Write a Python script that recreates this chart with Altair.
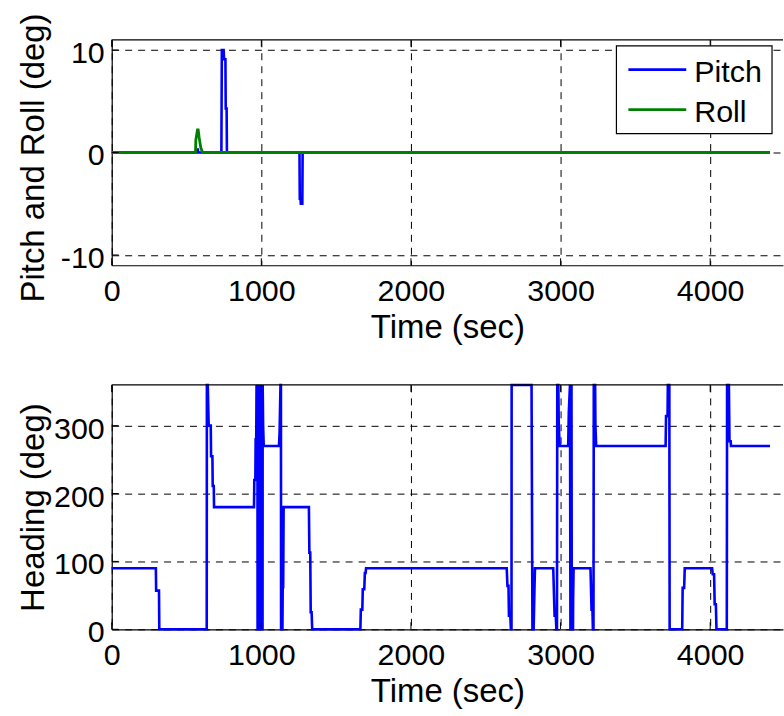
import altair as alt
import pandas as pd

# ---------------- data ----------------
pitch_time = [0, 566, 568, 576, 578, 733, 736, 748, 751, 760, 762, 768, 770,
              1255, 1257, 1262, 1264, 1274, 1276, 4400]
pitch_deg = [0, 0, 0.3, 0.3, 0, 0, 10, 10, 9.1, 9.1, 4.3, 4.3, 0,
             0, -4.5, -4.5, -5.0, -5.0, 0, 0]

roll_time = [0, 560, 562, 573, 578, 584, 595, 607, 4400]
roll_deg = [0, 0, 1.2, 2.2, 2.2, 1.5, 0.5, 0, 0]

heading_time = [
    0, 295, 297, 316, 318, 635, 636, 642, 648, 662, 664, 673, 675, 682, 684,
    951, 953, 960, 962, 966, 968, 970, 974, 975, 980, 981, 986, 988, 989, 994,
    995, 1000, 1003, 1005, 1008, 1009, 1012, 1016, 1118, 1122, 1128, 1131, 1132,
    1137, 1139, 1141, 1144, 1146, 1149, 1318, 1321, 1327, 1330, 1336, 1340,
    1662, 1665, 1675, 1678, 1688, 1692, 1697, 1700,
    2640, 2645, 2652, 2655, 2664, 2668, 2672, 2673, 2806, 2812, 2817, 2820,
    2826, 2829, 2951, 2960, 2968, 2972, 2976, 2978, 2985, 2988, 2994, 3051,
    3055, 3063, 3066, 3071, 3073, 3075, 3083, 3084, 3087, 3200, 3207, 3213,
    3216, 3220, 3222, 3231, 3233, 3238, 3702, 3705, 3715, 3717, 3727, 3729,
    3813, 3816, 3826, 3830, 4013, 4017, 4026, 4030, 4038, 4042, 4111, 4113,
    4125, 4129, 4137, 4139, 4400,
]
heading_deg = [
    90, 90, 57, 57, 0, 0, 360, 360, 300, 300, 255, 255, 211, 211, 180,
    180, 220, 220, 280, 280, 360, 340, 360, 0, 0, 360, 330, 360, 0, 0,
    360, 320, 360, 0, 0, 360, 300, 270, 270, 290, 360, 360, 0,
    0, 30, 0, 100, 60, 180, 180, 113, 113, 25, 25, 0,
    0, 29, 29, 59, 59, 83, 83, 90,
    90, 64, 64, 20, 20, 0, 0, 360, 360, 0, 0, 0,
    64, 90, 90, 20, 20, 0, 0, 360, 360, 300, 270, 270,
    319, 360, 0, 0, 360, 0, 0, 44, 90, 90, 29, 29,
    0, 0, 360, 360, 300, 270, 270, 314, 314, 360, 360, 0,
    0, 61, 61, 90, 90, 81, 81, 37, 37, 0, 0, 360,
    360, 277, 277, 270, 270,
]

time_ticks = [0, 1000, 2000, 3000, 4000]
attitude_ticks = [-10, 0, 10]
heading_ticks = [0, 100, 200, 300]

legend_labels = ["Pitch", "Roll"]
legend_colors = ["#0000ff", "#008000"]

# ---------------- styling ----------------
FONT = "Liberation Sans"
W = 673
H_TOP = 226
H_BOT = 245
TICK_LEN = 7

x_scale = alt.Scale(domain=[0, 4486.7], nice=False, zero=False)


def series(t, v):
    return pd.DataFrame({"t": t, "v": v, "i": range(len(t))})


def x_axis():
    return alt.Axis(
        values=time_ticks, title="Time (sec)", grid=True, gridColor="black",
        gridDash=[7, 6], gridOpacity=1, gridWidth=1, domain=True,
        domainColor="black", domainWidth=1.2, ticks=False, tickSize=0,
        labelFont=FONT, labelFontSize=30.5, labelColor="black",
        labelPadding=11, labelFlush=False, labelOverlap=False,
        labelExpr="'' + datum.value", titleFont=FONT, titleFontSize=33,
        titleFontWeight="normal", titleColor="black",
        titleBaseline="alphabetic", titleY=72,
    )


def y_axis(values, title, title_y):
    return alt.Axis(
        values=values, title=title, grid=True, gridColor="black",
        gridDash=[7, 6], gridOpacity=1, gridWidth=1, domain=True,
        domainColor="black", domainWidth=1.2, ticks=False, tickSize=0,
        labelFont=FONT, labelFontSize=30.5, labelColor="black",
        labelPadding=7.5, labelOffset=3.5, labelOverlap=False,
        labelExpr="'' + datum.value", titleFont=FONT, titleFontSize=33,
        titleFontWeight="normal", titleColor="black",
        titleBaseline="alphabetic", titleX=-68, titleY=title_y,
        titleAngle=270,
    )


def frame_layers(y_ticks, height):
    """Inward tick marks and the top edge of the box."""
    one = pd.DataFrame({"k": [0]})
    ydf = pd.DataFrame({"v": y_ticks})
    xdf = pd.DataFrame({"t": time_ticks})
    return [
        alt.Chart(ydf).mark_rule(color="black", strokeWidth=1).encode(
            y="v:Q", x=alt.value(0), x2=alt.value(TICK_LEN)),
        alt.Chart(xdf).mark_rule(color="black", strokeWidth=1).encode(
            x=alt.X("t:Q", scale=x_scale), y=alt.value(height),
            y2=alt.value(height - TICK_LEN)),
        alt.Chart(xdf).mark_rule(color="black", strokeWidth=1).encode(
            x=alt.X("t:Q", scale=x_scale), y=alt.value(0),
            y2=alt.value(TICK_LEN)),
        alt.Chart(one).mark_rule(color="black", strokeWidth=1.2).encode(
            x=alt.value(0), x2=alt.value(W), y=alt.value(0)),
    ]


# ---------------- top panel: pitch and roll ----------------
y_att = alt.Scale(domain=[-11, 11], nice=False, zero=False)

pitch_line = alt.Chart(series(pitch_time, pitch_deg)).mark_line(
    color=legend_colors[0], strokeWidth=2.6).encode(
    x=alt.X("t:Q", scale=x_scale, axis=x_axis()),
    y=alt.Y("v:Q", scale=y_att,
            axis=y_axis(attitude_ticks, "Pitch and Roll (deg)", H_TOP / 2 + 5)),
    order="i:Q",
)
roll_line = alt.Chart(series(roll_time, roll_deg)).mark_line(
    color=legend_colors[1], strokeWidth=2.8).encode(
    x=alt.X("t:Q", scale=x_scale),
    y=alt.Y("v:Q", scale=y_att),
    order="i:Q",
)

one_row = pd.DataFrame({"k": [0]})
legend_layers = [
    alt.Chart(one_row).mark_rect(fill="white", stroke="black",
                                 strokeWidth=1.2).encode(
        x=alt.value(506), x2=alt.value(662), y=alt.value(6), y2=alt.value(94))
]
for i, (lab, col) in enumerate(zip(legend_labels, legend_colors)):
    legend_layers.append(
        alt.Chart(one_row).mark_rule(color=col, strokeWidth=2.8).encode(
            x=alt.value(518), x2=alt.value(576), y=alt.value(30 + 40 * i)))
    legend_layers.append(
        alt.Chart(one_row).mark_text(
            text=lab, font=FONT, fontSize=30.5, align="left",
            baseline="alphabetic", color="black").encode(
            x=alt.value(584), y=alt.value(42 + 40 * i)))

top = alt.layer(
    pitch_line, roll_line, *frame_layers(attitude_ticks, H_TOP), *legend_layers
).properties(width=W, height=H_TOP)

# ---------------- bottom panel: heading ----------------
y_hdg = alt.Scale(domain=[0, 360], nice=False, zero=False)

heading_line = alt.Chart(series(heading_time, heading_deg)).mark_line(
    color="#0000ff", strokeWidth=2.6).encode(
    x=alt.X("t:Q", scale=x_scale, axis=x_axis()),
    y=alt.Y("v:Q", scale=y_hdg,
            axis=y_axis(heading_ticks, "Heading (deg)", H_BOT / 2)),
    order="i:Q",
)

bottom = alt.layer(
    heading_line, *frame_layers(heading_ticks, H_BOT)
).properties(width=W, height=H_BOT)

chart = alt.vconcat(top, bottom, spacing=120, bounds="flush").properties(
    padding={"left": 17, "top": 12, "right": 0, "bottom": 0},
    background="white",
).configure_view(stroke=None)

chart.save("out.html", embed_options={"renderer": "svg", "actions": False})
